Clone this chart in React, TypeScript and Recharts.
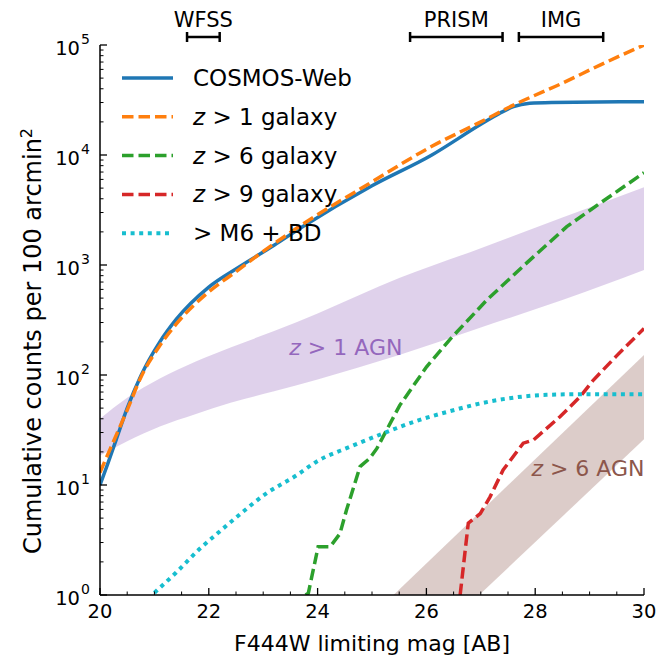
import React from 'react';
import { ComposedChart, Line, Area, XAxis, YAxis, ReferenceLine, ReferenceDot, Legend } from 'recharts';

// F444W limiting magnitude vs cumulative counts per 100 arcmin^2
const cosmosMag = [20.0, 20.15, 20.3, 20.5, 20.75, 21.1, 21.4, 22.0, 22.55, 23.2, 23.7, 25.0, 26.1, 27.0, 27.35, 27.6, 27.9, 28.3, 30.0];
const cosmosCount = [10, 16, 26, 50, 98, 200, 320, 630, 955, 1510, 2190, 5250, 10000, 19000, 24000, 27500, 29500, 30000, 30500];

const z1GalMag = [20.0, 20.2, 20.5, 20.75, 21.1, 21.4, 22.0, 22.5, 23.0, 23.7, 25.0, 26.1, 27.0, 27.6, 28.5, 29.2, 30.0];
const z1GalCount = [13, 22, 48, 95, 185, 290, 570, 870, 1330, 2300, 5700, 12000, 20000, 28400, 45000, 66000, 100000];

const z6GalMag = [23.78, 23.83, 24.01, 24.23, 24.41, 24.53, 24.78, 24.96, 25.09, 25.51, 26.0, 26.43, 27.11, 27.84, 28.58, 29.19, 30.0];
const z6GalCount = [1.0, 1.04, 2.75, 2.75, 3.6, 5.9, 14.7, 17.5, 21.5, 53, 118, 210, 480, 1040, 2230, 3640, 6900];

const z9GalMag = [26.62, 26.77, 26.99, 27.17, 27.41, 27.78, 27.97, 28.46, 28.82, 29.07, 29.5, 30.0];
const z9GalCount = [1.0, 4.5, 5.5, 7.8, 13.7, 24, 25.7, 42, 63, 90, 150, 265];

const starMag = [21.0, 21.4, 21.84, 22.15, 22.51, 23.06, 23.62, 23.98, 24.6, 25.21, 25.8, 26.37, 27.29, 28.21, 29.0, 30.0];
const starCount = [1.05, 1.6, 2.65, 3.6, 5.1, 8.4, 12.3, 16.3, 22.3, 29.5, 38, 46, 59, 66, 67, 67];

const z1AgnMag = [20.0, 20.5, 21.1, 21.75, 22.4, 23.2, 24.0, 25.5, 27.0, 28.5, 30.0];
const z1AgnLow = [18.5, 25, 34, 44, 56, 71, 91, 152, 270, 480, 900];
const z1AgnHigh = [40, 62, 93, 132, 178, 251, 363, 760, 1420, 2700, 5100];

const z6AgnMag = [25.0, 30.0];
const z6AgnLow = [0.12, 26];
const z6AgnHigh = [0.65, 152];

const modeNames = ['WFSS', 'PRISM', 'IMG'];
const modeFrom = [21.6, 25.7, 27.7];
const modeTo = [22.2, 27.4, 29.25];

const magMajorTicks = [20, 22, 24, 26, 28, 30];
const countMajorTicks = [1, 10, 100, 1000, 10000, 100000];
const countExponents = ['0', '1', '2', '3', '4', '5'];

const magTicks: number[] = [];
for (let m = 20; m <= 30.001; m += 0.5) magTicks.push(Math.round(m * 10) / 10);
const countTicks: number[] = [];
countMajorTicks.forEach((d, i) => {
  countTicks.push(d);
  if (i < countMajorTicks.length - 1) for (let k = 2; k <= 9; k++) countTicks.push(d * k);
});

const toRows = (m: number[], v: number[]) => m.map((mag, i) => ({ mag, n: v[i] }));
const toBand = (m: number[], lo: number[], hi: number[]) => m.map((mag, i) => ({ mag, range: [lo[i], hi[i]] }));

const FONT = 'DejaVu Sans';
const C = {
  blue: '#1f77b4',
  orange: '#ff7f0e',
  green: '#2ca02c',
  red: '#d62728',
  cyan: '#17becf',
  purple: '#9467bd',
  brown: '#8c564b',
};
const DASH = '11.5 5';
const DOT = '4 4.6';
const LW = 3.5;
const DOT_W = 4;

const legendItems = [
  { z: false, text: 'COSMOS-Web', color: C.blue, dash: undefined as string | undefined, w: LW },
  { z: true, text: ' > 1 galaxy', color: C.orange, dash: DASH, w: LW },
  { z: true, text: ' > 6 galaxy', color: C.green, dash: DASH, w: LW },
  { z: true, text: ' > 9 galaxy', color: C.red, dash: DASH, w: LW },
  { z: false, text: '> M6 + BD', color: C.cyan, dash: DOT, w: DOT_W },
];

const isMajorMag = (v: number) => magMajorTicks.includes(v);
const majorCountIdx = (v: number) => countMajorTicks.indexOf(v);

const LeftTick = (p: any) => {
  const { x, y, payload } = p;
  const i = majorCountIdx(payload.value);
  const major = i >= 0;
  return (
    <g>
      <line x1={x} y1={y} x2={x + (major ? 7 : 3.5)} y2={y} stroke="#000" strokeWidth={major ? 1.3 : 1} />
      {major && (
        <g fontFamily={FONT} fill="#000">
          <text x={x - 20} y={y + 9.5} textAnchor="end" fontSize={19.5}>10</text>
          <text x={x - 19} y={y - 1} textAnchor="start" fontSize={14}>{countExponents[i]}</text>
        </g>
      )}
    </g>
  );
};

const RightTick = (p: any) => {
  const { x, y, payload } = p;
  const major = majorCountIdx(payload.value) >= 0;
  return <line x1={x} y1={y} x2={x - (major ? 7 : 3.5)} y2={y} stroke="#000" strokeWidth={major ? 1.3 : 1} />;
};

const BottomTick = (p: any) => {
  const { x, y, payload } = p;
  const major = isMajorMag(payload.value);
  return (
    <g>
      <line x1={x} y1={y} x2={x} y2={y - (major ? 7 : 3.5)} stroke="#000" strokeWidth={major ? 1.3 : 1} />
      {major && (
        <text x={x} y={y + 23} textAnchor="middle" fontSize={19.5} fontFamily={FONT} fill="#000">
          {payload.value}
        </text>
      )}
    </g>
  );
};

const TopTick = (p: any) => {
  const { x, y, payload } = p;
  const major = isMajorMag(payload.value);
  return <line x1={x} y1={y} x2={x} y2={y + (major ? 7 : 3.5)} stroke="#000" strokeWidth={major ? 1.3 : 1} />;
};

const LegendBox = () => (
  <svg width={280} height={200} style={{ display: 'block' }}>
    {legendItems.map((it, i) => {
      const y = 20 + i * 38.8;
      return (
        <g key={it.text}>
          <line x1={10} x2={61} y1={y} y2={y} stroke={it.color} strokeWidth={it.w} strokeDasharray={it.dash} />
          <text x={81} y={y} dominantBaseline="central" fontSize={23} fontFamily={FONT} fill="#000">
            {it.z && <tspan fontStyle="italic">z</tspan>}
            <tspan>{it.text}</tspan>
          </text>
        </g>
      );
    })}
  </svg>
);

const bandLabel = (text: string, color: string) => (p: any) => (
  <text x={p.cx} y={p.cy} textAnchor="middle" dominantBaseline="central" fontSize={22} fontFamily={FONT} fill={color}>
    <tspan fontStyle="italic">z</tspan>
    <tspan>{text}</tspan>
  </text>
);

const modeLabel = (text: string) => (p: any) => (
  <text x={p.cx} y={p.cy} textAnchor="middle" dominantBaseline="central" fontSize={21} fontFamily={FONT} fill="#000">
    {text}
  </text>
);

// vertical placement of the spectroscopy-mode bars above the frame (in count units)
const BAR_Y = Math.pow(10, 5.073);
const CAP_HI = Math.pow(10, 5.118);
const CAP_LO = Math.pow(10, 5.027);
const MODE_TEXT_Y = Math.pow(10, 5.23);

export default function App() {
  const axisLine = { stroke: '#000', strokeWidth: 1.5 };
  return (
    <div style={{ position: 'absolute', left: 0, top: 0, width: 659, height: 660, background: '#fff' }}>
      <ComposedChart width={659} height={660} margin={{ top: 45, right: 15, bottom: 5, left: 40 }}>
        <XAxis
          dataKey="mag"
          type="number"
          domain={[20, 30]}
          allowDataOverflow
          ticks={magTicks}
          interval={0}
          height={60}
          tickSize={0}
          tickMargin={0}
          tickLine={false}
          axisLine={axisLine}
          tick={<BottomTick />}
        />
        <XAxis
          xAxisId="top"
          orientation="top"
          dataKey="mag"
          type="number"
          domain={[20, 30]}
          allowDataOverflow
          ticks={magTicks}
          interval={0}
          height={0}
          tickSize={0}
          tickMargin={0}
          tickLine={false}
          axisLine={axisLine}
          tick={<TopTick />}
        />
        <YAxis
          type="number"
          scale="log"
          domain={[1, 100000]}
          allowDataOverflow
          ticks={countTicks}
          interval={0}
          width={60}
          tickSize={0}
          tickMargin={0}
          tickLine={false}
          axisLine={axisLine}
          tick={<LeftTick />}
        />
        <YAxis
          yAxisId="right"
          orientation="right"
          type="number"
          scale="log"
          domain={[1, 100000]}
          allowDataOverflow
          ticks={countTicks}
          interval={0}
          width={0}
          tickSize={0}
          tickMargin={0}
          tickLine={false}
          axisLine={axisLine}
          tick={<RightTick />}
        />

        <Area
          data={toBand(z1AgnMag, z1AgnLow, z1AgnHigh)}
          dataKey="range"
          type="monotone"
          stroke="none"
          fill={C.purple}
          fillOpacity={0.3}
          isAnimationActive={false}
        />
        <Area
          data={toBand(z6AgnMag, z6AgnLow, z6AgnHigh)}
          dataKey="range"
          type="linear"
          stroke="none"
          fill={C.brown}
          fillOpacity={0.3}
          isAnimationActive={false}
        />

        <Line data={toRows(cosmosMag, cosmosCount)} dataKey="n" type="monotone" stroke={C.blue} strokeWidth={LW} dot={false} isAnimationActive={false} />
        <Line data={toRows(z1GalMag, z1GalCount)} dataKey="n" type="monotone" stroke={C.orange} strokeWidth={LW} strokeDasharray={DASH} dot={false} isAnimationActive={false} />
        <Line data={toRows(z6GalMag, z6GalCount)} dataKey="n" type="linear" stroke={C.green} strokeWidth={LW} strokeDasharray={DASH} dot={false} isAnimationActive={false} />
        <Line data={toRows(z9GalMag, z9GalCount)} dataKey="n" type="linear" stroke={C.red} strokeWidth={LW} strokeDasharray={DASH} dot={false} isAnimationActive={false} />
        <Line data={toRows(starMag, starCount)} dataKey="n" type="monotone" stroke={C.cyan} strokeWidth={DOT_W} strokeDasharray={DOT} dot={false} isAnimationActive={false} />

        <ReferenceDot x={24.52} y={180} r={0} ifOverflow="visible" shape={bandLabel(' > 1 AGN', C.purple)} />
        <ReferenceDot x={28.97} y={14.2} r={0} ifOverflow="visible" shape={bandLabel(' > 6 AGN', C.brown)} />

        {modeNames.map((name, i) => (
          <ReferenceLine
            key={name + 'bar'}
            segment={[{ x: modeFrom[i], y: BAR_Y }, { x: modeTo[i], y: BAR_Y }]}
            ifOverflow="visible"
            stroke="#000"
            strokeWidth={2.5}
          />
        ))}
        {modeNames.map((name, i) => (
          <ReferenceLine
            key={name + 'capA'}
            segment={[{ x: modeFrom[i], y: CAP_LO }, { x: modeFrom[i], y: CAP_HI }]}
            ifOverflow="visible"
            stroke="#000"
            strokeWidth={2.5}
          />
        ))}
        {modeNames.map((name, i) => (
          <ReferenceLine
            key={name + 'capB'}
            segment={[{ x: modeTo[i], y: CAP_LO }, { x: modeTo[i], y: CAP_HI }]}
            ifOverflow="visible"
            stroke="#000"
            strokeWidth={2.5}
          />
        ))}
        {modeNames.map((name, i) => (
          <ReferenceDot
            key={name + 'label'}
            x={(modeFrom[i] + modeTo[i]) / 2}
            y={MODE_TEXT_Y}
            r={0}
            ifOverflow="visible"
            shape={modeLabel(name)}
          />
        ))}

        <Legend
          layout="horizontal"
          verticalAlign="middle"
          align="center"
          content={() => <LegendBox />}
          wrapperStyle={{ left: 112, top: 58, width: 280, height: 200 }}
        />
      </ComposedChart>
      <svg width={659} height={660} style={{ position: 'absolute', left: 0, top: 0, pointerEvents: 'none' }}>
        <text x={372} y={651} textAnchor="middle" fontSize={22} fontFamily={FONT} fill="#000">
          F444W limiting mag [AB]
        </text>
        <text
          transform="translate(41,341) rotate(-90)"
          textAnchor="middle"
          fontSize={24}
          fontFamily={FONT}
          fill="#000"
        >
          Cumulative counts per 100 arcmin
          <tspan dy={-9} fontSize={16}>2</tspan>
        </text>
      </svg>
    </div>
  );
}
